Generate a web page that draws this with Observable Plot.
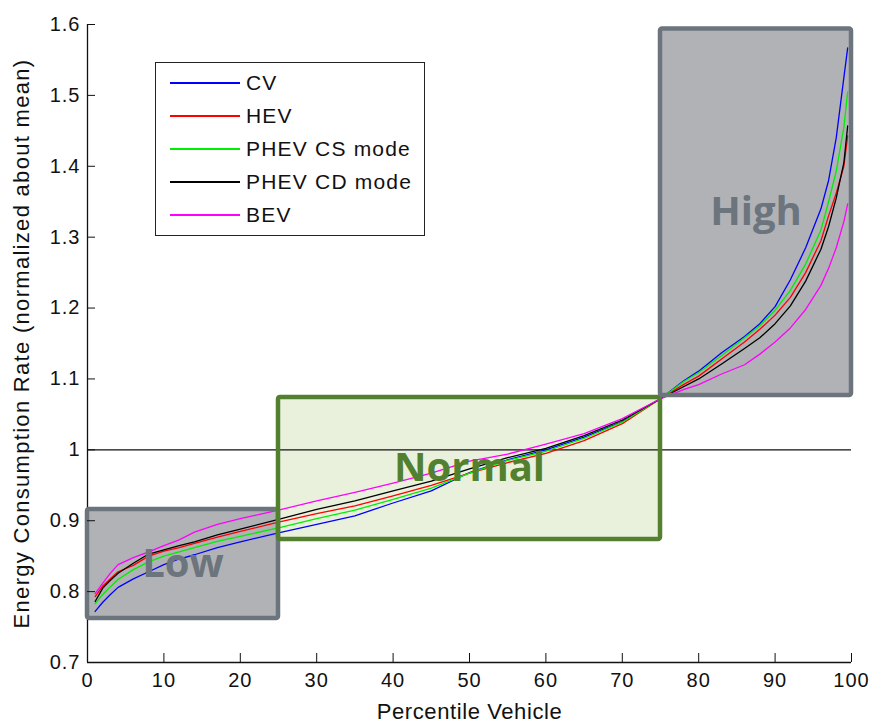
<!DOCTYPE html>
<html>
<head>
<meta charset="utf-8">
<script src="https://cdn.jsdelivr.net/npm/d3@7"></script>
<script src="https://cdn.jsdelivr.net/npm/@observablehq/plot@0.6"></script>
<style>
  body { margin: 0; background: #fff; }
  #wrap { position: relative; width: 874px; height: 722px; }
  #wrap svg { display: block; }
  g[aria-label="x-axis tick label"] text,
  g[aria-label="y-axis tick label"] text { letter-spacing: 1px; }
  g[aria-label="x-axis label"] text { font-size: 22px; letter-spacing: 0.6px; }
  g[aria-label="y-axis label"] text { font-size: 22px; letter-spacing: 1.3px; }
  #legend {
    position: absolute; left: 155px; top: 62px; width: 268px; height: 172px;
    border: 1.5px solid #222; background: #fff;
    font-family: "Liberation Sans", Arial, sans-serif; font-size: 21px; letter-spacing: 1.2px; color: #111;
  }
  #legend .row { position: absolute; left: 0; height: 30px; display: flex; align-items: center; }
  #legend .swatch { width: 70px; height: 1.6px; margin-left: 14px; margin-right: 6px; }
</style>
</head>
<body>
<div id="wrap"></div>
<script>
// Percentile of the vehicle population (x) and energy consumption rate normalized by the mean (y)
const percentiles = [1, 2, 3, 4, 6, 8, 10, 12, 14, 17, 20, 25, 30, 35, 40, 45, 50, 55, 60, 65, 70, 75, 78, 80, 83, 86, 88, 90, 92, 94, 96, 97, 98, 99, 99.5];

const cv = [0.772, 0.785, 0.796, 0.806, 0.818, 0.828, 0.838, 0.846, 0.852, 0.862, 0.870, 0.883, 0.895, 0.907, 0.925, 0.942, 0.968, 0.986, 1.000, 1.018, 1.040, 1.072, 1.097, 1.111, 1.137, 1.160, 1.178, 1.202, 1.240, 1.285, 1.340, 1.380, 1.440, 1.525, 1.567];
const hev = [0.793, 0.808, 0.818, 0.828, 0.837, 0.850, 0.857, 0.862, 0.868, 0.877, 0.885, 0.898, 0.910, 0.921, 0.935, 0.950, 0.967, 0.982, 0.995, 1.013, 1.037, 1.072, 1.092, 1.104, 1.128, 1.152, 1.170, 1.190, 1.215, 1.250, 1.295, 1.330, 1.362, 1.400, 1.443];
const phevCs = [0.783, 0.796, 0.807, 0.817, 0.831, 0.842, 0.850, 0.856, 0.862, 0.871, 0.878, 0.890, 0.903, 0.915, 0.930, 0.946, 0.967, 0.985, 0.998, 1.016, 1.039, 1.072, 1.096, 1.109, 1.133, 1.158, 1.175, 1.197, 1.225, 1.262, 1.310, 1.350, 1.393, 1.455, 1.505];
const phevCd = [0.786, 0.805, 0.816, 0.826, 0.840, 0.853, 0.859, 0.865, 0.870, 0.880, 0.888, 0.902, 0.916, 0.928, 0.942, 0.956, 0.973, 0.989, 1.002, 1.020, 1.042, 1.072, 1.089, 1.100, 1.121, 1.143, 1.158, 1.178, 1.203, 1.238, 1.283, 1.315, 1.355, 1.405, 1.457];
const bev = [0.797, 0.812, 0.826, 0.838, 0.848, 0.856, 0.865, 0.873, 0.884, 0.895, 0.903, 0.915, 0.928, 0.940, 0.953, 0.967, 0.984, 0.994, 1.008, 1.023, 1.044, 1.072, 1.085, 1.092, 1.107, 1.120, 1.135, 1.152, 1.172, 1.198, 1.232, 1.256, 1.285, 1.322, 1.347];

const seriesNames = ["CV", "HEV", "PHEV CS mode", "PHEV CD mode", "BEV"];
const seriesValues = [cv, hev, phevCs, phevCd, bev];
const seriesColors = ["#0000ff", "#ff0000", "#00ee00", "#000000", "#ff00ff"];

// Consumption bands: percentile span and rate span of each highlighted group
const bandNames = ["Low", "Normal", "High"];
const bandX1 = [0, 25, 75];
const bandX2 = [25, 75, 100];
const bandY1 = [0.762, 0.8735, 1.0766];
const bandY2 = [0.916, 1.074, 1.5935];
const bandFills = ["#b1b2b5", "#e9f1dc", "#b1b2b5"];
const bandStrokes = ["#6c747d", "#53802f", "#6c747d"];

const xDomain = [0, 100];
const yDomain = [0.7, 1.6];
const xTicks = [0, 10, 20, 30, 40, 50, 60, 70, 80, 90, 100];
const yTicks = [0.7, 0.8, 0.9, 1.0, 1.1, 1.2, 1.3, 1.4, 1.5, 1.6];
const meanLevel = 1;

const rows = seriesNames.flatMap((name, i) =>
  percentiles.map((p, j) => ({series: name, percentile: p, rate: seriesValues[i][j]}))
);
const bands = bandNames.map((name, i) => ({
  name, x1: bandX1[i], x2: bandX2[i], y1: bandY1[i], y2: bandY2[i], fill: bandFills[i], stroke: bandStrokes[i]
}));

const font = "'Liberation Sans', Arial, sans-serif";

const chart = Plot.plot({
  width: 874,
  height: 722,
  marginLeft: 87,
  marginRight: 23,
  marginTop: 24,
  marginBottom: 60,
  style: {fontFamily: font, fontSize: "20px", color: "#111", background: "#fff"},
  x: {domain: xDomain, label: null},
  y: {domain: yDomain, label: null},
  color: {domain: seriesNames, range: seriesColors},
  marks: [
    Plot.rect(bands, {x1: "x1", x2: "x2", y1: "y1", y2: "y2", fill: d => d.fill}),
    Plot.ruleX([xDomain[0]], {stroke: "#111", strokeWidth: 1.3}),
    Plot.ruleY([yDomain[0]], {stroke: "#111", strokeWidth: 1.3}),
    Plot.ruleY([meanLevel], {stroke: "#111", strokeWidth: 1.2}),
    Plot.line(rows, {x: "percentile", y: "rate", z: "series", stroke: "series", strokeWidth: 1.3}),
    Plot.rect(bands, {x1: "x1", x2: "x2", y1: "y1", y2: "y2", fill: "none", stroke: d => d.stroke, strokeWidth: 4.5, rx: 2}),
    Plot.text(bands, {
      x: d => (d.x1 + d.x2) / 2,
      y: d => (d.y1 + d.y2) / 2,
      text: "name",
      fill: d => d.stroke,
      fontFamily: "'Open Sans', sans-serif",
      fontWeight: 700,
      fontSize: 40
    }),
    Plot.axisX({
      ticks: xTicks, tickSize: -9, tickPadding: 19, fontSize: 20,
      label: "Percentile Vehicle", labelAnchor: "center", labelOffset: 56, labelArrow: "none"
    }),
    Plot.axisY({
      ticks: yTicks, tickSize: -8, tickPadding: 15, fontSize: 20,
      tickFormat: d => `${+d.toFixed(1)}`,
      label: "Energy Consumption Rate (normalized about mean)", labelAnchor: "center", labelOffset: 74, labelArrow: "none"
    })
  ]
});

const wrap = document.getElementById("wrap");
wrap.appendChild(chart);

// Series key drawn inside the axes, upper left
const legend = d3.select(wrap).append("div").attr("id", "legend");
seriesNames.forEach((name, i) => {
  const row = legend.append("div").attr("class", "row").style("top", `${5 + i * 33}px`);
  row.append("div").attr("class", "swatch").style("background", seriesColors[i]);
  row.append("span").text(name);
});
</script>
</body>
</html>
